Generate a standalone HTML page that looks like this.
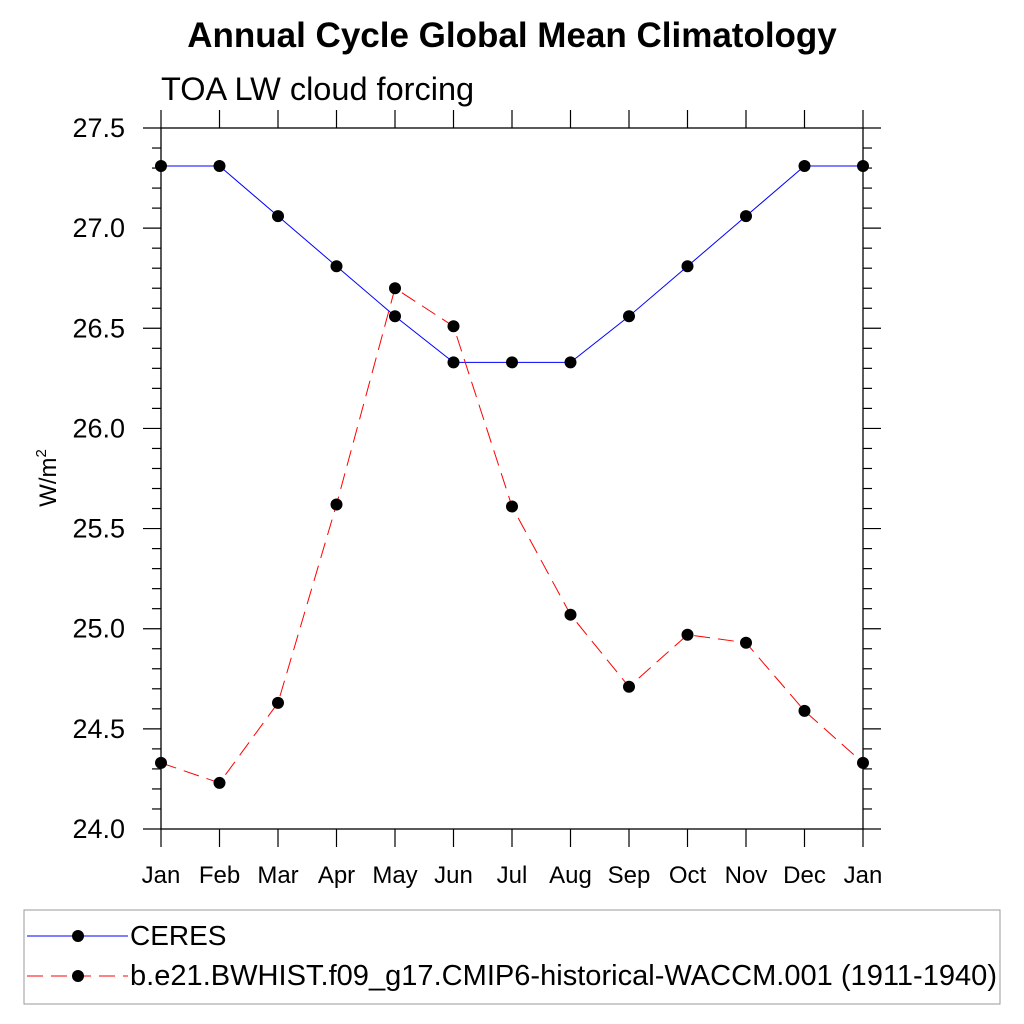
<!DOCTYPE html>
<html><head><meta charset="utf-8"><style>
body{margin:0;background:#fff;}
svg{display:block;font-family:"Liberation Sans",sans-serif;}
</style></head><body>
<svg id="chart" width="1024" height="1024" viewBox="0 0 1024 1024">
<text x="512" y="47" text-anchor="middle" font-size="35" font-weight="bold">Annual Cycle Global Mean Climatology</text>
<text x="161" y="100" font-size="32.5">TOA LW cloud forcing</text>
<text transform="translate(56,478) rotate(-90)" text-anchor="middle" font-size="24">W/m<tspan font-size="15" dy="-10">2</tspan></text>
<g id="axes"></g>
<g id="series"></g>
<g>
<rect x="24" y="910" width="976" height="94" fill="none" stroke="#999" stroke-width="1"/>
<line x1="27" y1="936" x2="128" y2="936" stroke="#00f" stroke-width="1"/>
<circle cx="78" cy="936" r="6" fill="#000"/>
<text x="130" y="945" font-size="28">CERES</text>
<line x1="27" y1="976" x2="128" y2="976" stroke="#f00" stroke-width="1" stroke-dasharray="16,8"/>
<circle cx="78" cy="976" r="6" fill="#000"/>
<text x="130" y="985" font-size="29" textLength="867" lengthAdjust="spacingAndGlyphs">b.e21.BWHIST.f09_g17.CMIP6-historical-WACCM.001 (1911-1940)</text>
</g>
</svg>
<script>
const months=["Jan","Feb","Mar","Apr","May","Jun","Jul","Aug","Sep","Oct","Nov","Dec","Jan"];
const ceres=[27.31,27.31,27.06,26.81,26.56,26.33,26.33,26.33,26.56,26.81,27.06,27.31,27.31];
const model=[24.33,24.23,24.63,25.62,26.70,26.51,25.61,25.07,24.71,24.97,24.93,24.59,24.33];
const yTicks=[24.0,24.5,25.0,25.5,26.0,26.5,27.0,27.5];
const NS="http://www.w3.org/2000/svg";
const L=161,R=863,T=128,B=829,yMin=24,yMax=27.5;
function xs(i){return L+(R-L)*i/(months.length-1);}
function ys(v){return B-(v-yMin)/(yMax-yMin)*(B-T);}
function mk(tag,attrs,parent){const e=document.createElementNS(NS,tag);for(const k in attrs)e.setAttribute(k,attrs[k]);parent.appendChild(e);return e;}
const ax=document.getElementById('axes');
const fr=mk('rect',{x:L,y:T,width:R-L,height:B-T,fill:'none',stroke:'#000','stroke-width':1.3},ax);


for(let v=0;v<=35;v++){
 const y=ys(yMin+v*0.1);const maj=v%5===0;const len=maj?18:9;
 mk('line',{x1:L-len,y1:y,x2:L,y2:y,stroke:'#000','stroke-width':1.2},ax);
 mk('line',{x1:R,y1:y,x2:R+len,y2:y,stroke:'#000','stroke-width':1.2},ax);
}
yTicks.forEach(v=>{
 const t=mk('text',{x:125,y:ys(v)+9,'text-anchor':'end','font-size':27},ax);
 t.textContent=v.toFixed(1);
 
 
});
months.forEach((m,i)=>{
 const x=xs(i);
 mk('line',{x1:x,y1:T-18,x2:x,y2:T,stroke:'#000','stroke-width':1.2},ax);
 mk('line',{x1:x,y1:B,x2:x,y2:B+18,stroke:'#000','stroke-width':1.2},ax);
 const t=mk('text',{x:x,y:883,'text-anchor':'middle','font-size':24},ax);
 t.textContent=m;
 
 
});
const sg=document.getElementById('series');
function draw(vals,color,dash,name){
 const p=mk('polyline',{points:vals.map((v,i)=>xs(i)+','+ys(v)).join(' '),fill:'none',stroke:color,'stroke-width':1,'stroke-dasharray':dash},sg);
 
 
 vals.forEach((v,i)=>{
  const c=mk('circle',{cx:xs(i),cy:ys(v),r:6,fill:'#000'},sg);
  
  
 });
}
draw(ceres,'#00f','none','ceres');
draw(model,'#f00','16,8','model');
</script>
</body></html>
